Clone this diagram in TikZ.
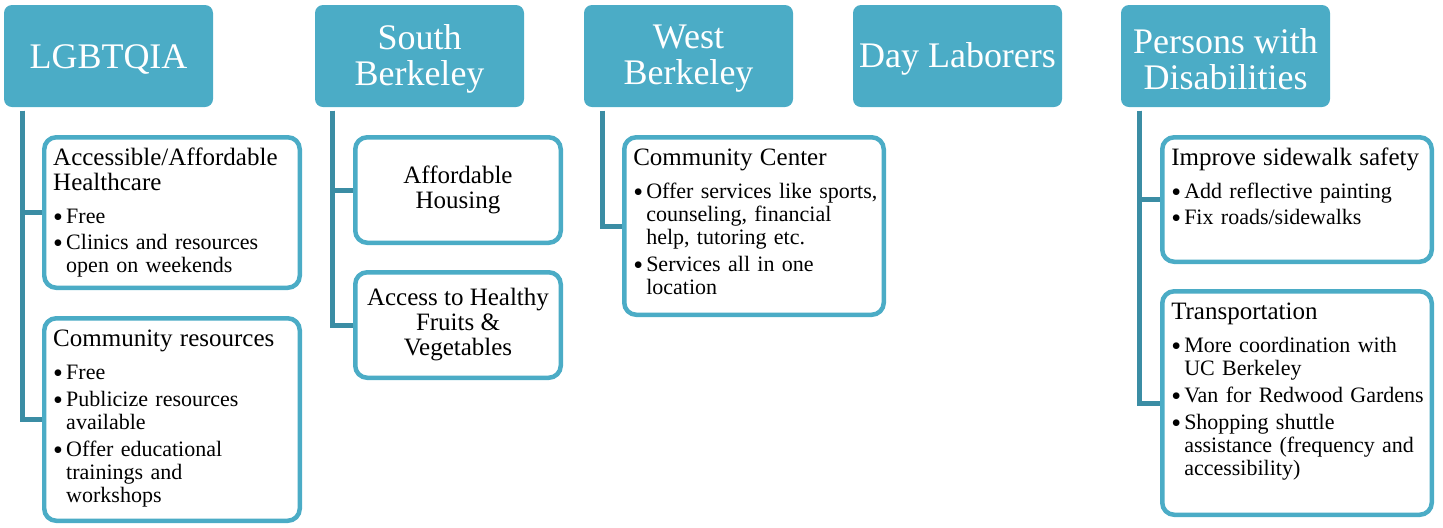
\documentclass[tikz,border=0pt]{standalone}
\usepackage{fontspec}
\setmainfont{Liberation Serif}
\usepackage{xcolor}
\usetikzlibrary{positioning,calc}

\definecolor{hdr}{HTML}{4BACC6}
\definecolor{linkcol}{HTML}{3B8DA4}

\newcommand{\hdrfont}{\fontsize{10.24}{10.24}\selectfont}
\newcommand{\titlefont}{\fontsize{7.11}{7.11}\selectfont}
\newcommand{\bulfont}{\fontsize{6.26}{6.54}\selectfont}
\newcommand{\needhead}[1]{{\titlefont #1\par}\vspace{0.1cm}}
\newcommand{\bul}{\makebox[0.13cm][l]{\raisebox{-0.035cm}{\fontsize{8}{8}\selectfont\textbullet}}}
\newenvironment{points}{\begin{tabular}[t]{@{}l@{}l@{}}}{\end{tabular}}

\begin{document}
\begin{tikzpicture}[
    header/.style={rectangle, rounded corners=0.08cm, fill=hdr, minimum width=2.09cm, minimum height=1.02cm, inner sep=0pt,
        label={[text=white, font=\hdrfont, align=center, yshift=-0.03cm]center:#1}},
    need/.style={rectangle, rounded corners=0.12cm, draw=hdr, line width=0.045cm, fill=white, anchor=north west, inner xsep=0.09cm, inner ysep=0.06cm, text height=0.22cm, align=left, font=\bulfont},
    plainneed/.style={rectangle, rounded corners=0.12cm, draw=hdr, line width=0.045cm, fill=white, anchor=north west, minimum width=2.055cm, minimum height=1.055cm, align=center, font=\titlefont},
    branch/.style={draw=linkcol, line width=0.05cm},
]
\useasboundingbox (0,0) rectangle (14.43,-5.27);

% Group headers
\foreach \x/\n/\t in {1.085/lgbtqia/LGBTQIA, 4.195/south/South\\Berkeley, 6.885/west/West\\Berkeley, 9.575/day/Day Laborers, 12.255/pwd/Persons with\\Disabilities} {
    \node[header=\t] (\n) at (\x, -0.56) {};
}

% LGBTQIA
\node[need, text width=2.375cm, text depth=1.165cm] (lgb1) at (0.42, -1.35) {
    \needhead{Accessible/Affordable\\Healthcare}
    \begin{points}
    \bul & Free\\[0.03cm]
    \bul & Clinics and resources\\
         & open on weekends
    \end{points}};
\node[need, text width=2.375cm, text depth=1.685cm] (lgb2) at (0.42, -3.16) {
    \needhead{Community resources}
    \begin{points}
    \bul & Free\\[0.04cm]
    \bul & Publicize resources\\
         & available\\[0.04cm]
    \bul & Offer educational\\
         & trainings and\\
         & workshops
    \end{points}};

% South Berkeley
\node[plainneed] (south1) at (3.53, -1.35) {Affordable\\Housing};
\node[plainneed] (south2) at (3.53, -2.70) {Access to Healthy\\Fruits \&\\Vegetables};

% West Berkeley
\node[need, text width=2.415cm, text depth=1.435cm] (west1) at (6.22, -1.35) {
    \needhead{Community Center}
    \begin{points}
    \bul & Offer services like sports,\\
         & counseling, financial\\
         & help, tutoring etc.\\[0.04cm]
    \bul & Services all in one\\
         & location
    \end{points}};

% Persons with Disabilities
\node[need, text width=2.515cm, text depth=0.905cm] (pwd1) at (11.60, -1.35) {
    \needhead{Improve sidewalk safety}
    \begin{points}
    \bul & Add reflective painting\\[0.03cm]
    \bul & Fix roads/sidewalks
    \end{points}};
\node[need, text width=2.515cm, text depth=1.895cm] (pwd2) at (11.60, -2.89) {
    \needhead{Transportation}
    \begin{points}
    \bul & More coordination with\\
         & UC Berkeley\\[0.04cm]
    \bul & Van for Redwood Gardens\\[0.04cm]
    \bul & Shopping shuttle\\
         & assistance (frequency and\\
         & accessibility)
    \end{points}};

% Branches
\draw[branch] ($(lgbtqia.south west)+(0.19,-0.03)$) |- (lgb1.west);
\draw[branch] ($(lgbtqia.south west)+(0.19,-0.03)$) |- (lgb2.west);
\draw[branch] ($(south.south west)+(0.18,-0.03)$) |- (south1.west);
\draw[branch] ($(south.south west)+(0.18,-0.03)$) |- (south2.west);
\draw[branch] ($(west.south west)+(0.19,-0.03)$) |- (west1.west);
\draw[branch] ($(pwd.south west)+(0.19,-0.03)$) |- (pwd1.west);
\draw[branch] ($(pwd.south west)+(0.19,-0.03)$) |- (pwd2.west);

\end{tikzpicture}
\end{document}
